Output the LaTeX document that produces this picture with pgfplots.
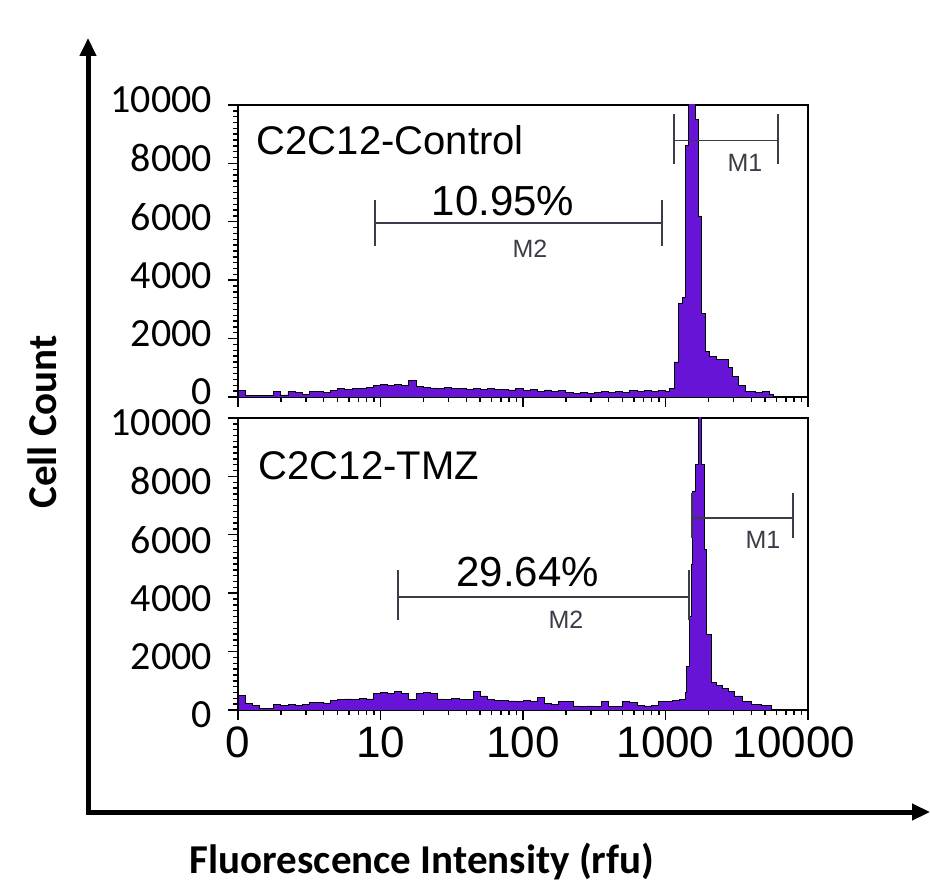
\documentclass[border=0pt]{standalone}
\usepackage{pgfplots}
\pgfplotsset{compat=1.18}
\usepackage{fontspec}
\setmainfont{Liberation Sans}
\newfontfamily\calibri{Carlito}
\usetikzlibrary{arrows.meta}

\definecolor{histpurple}{RGB}{104,20,214}
\definecolor{markgray}{RGB}{60,60,72}

% one FACS panel, log intensity axis
\pgfplotsset{
  facs/.style={
    width=285pt, height=146pt, scale only axis,
    xmin=1, xmax=10000,
    ymin=0, ymax=10000,
    xtick={1,10,100,1000,10000},
    ytick={0,2000,4000,6000,8000,10000},
    yticklabels={0,2000,4000,6000,8000,10000},
    minor y tick num=9,
    scaled y ticks=false,
    tick align=outside,
    xtick pos=left, ytick pos=left,
    major tick length=5pt, minor tick length=2.5pt,
    axis line style={line width=0.7pt},
    every tick/.style={black, line width=0.7pt},
    yticklabel style={font=\calibri\fontsize{20}{20}\selectfont,
      inner ysep=0pt, xshift=-4.5pt},
    xticklabel style={font=\fontsize{22}{22}\selectfont},
  },
  hist/.style={const plot, fill=histpurple, draw=black, line width=0.4pt},
}

\begin{document}
\begin{tikzpicture}[x=1pt,y=1pt]
\path[use as bounding box] (0,0) rectangle (465,444);

% ---- top: control
\begin{semilogxaxis}[facs, at={(119pt,245.5pt)}, anchor=south west, xticklabels={},
  yticklabel style={yshift=2.5pt}]
\addplot[hist] coordinates {
 (1.00,230) (1.12,50) (1.26,40) (1.41,60) (1.58,50) (1.78,200) (2.00,70)
 (2.24,180) (2.51,170) (2.82,90) (3.16,180) (3.55,190) (3.98,170) (4.47,220)
 (5.01,280) (5.62,260) (6.31,300) (7.08,280) (7.94,320) (8.91,380)
 (10.0,420) (11.2,400) (12.6,430) (14.1,380) (15.8,560) (17.8,350) (20.0,330)
 (22.4,310) (25.1,300) (28.2,320) (31.6,280) (35.5,300) (39.8,270) (44.7,290)
 (50.1,260) (56.2,280) (63.1,250) (70.8,270) (79.4,240) (89.1,280)
 (100,230) (112,250) (126,200) (141,240) (158,190) (178,210) (200,150)
 (224,130) (251,160) (282,120) (316,150) (355,180) (398,150) (447,200)
 (501,160) (562,210) (631,180) (708,230) (794,190) (891,220)
 (1000,200) (1072,300) (1148,1200) (1230,3200) (1318,3400) (1380,8600)
 (1445,10200) (1549,10500) (1622,9500) (1698,6200) (1778,2850) (1905,1560)
 (2042,1400) (2291,1300) (2512,1300) (2754,1000) (2951,700) (3236,400)
 (3631,200) (4266,150) (4786,180) (5370,100) (5754,0)
} \closedcycle;
\node[anchor=west, font=\fontsize{20}{20}\selectfont] at (axis cs:1.21,8790) {C2C12-Control};
\node[font=\fontsize{21}{21}\selectfont] at (axis cs:72.4,6710) {10.95\%};
\draw[markgray, line width=0.8pt] (axis cs:9.15,5950) -- (axis cs:945,5950)
  (axis cs:9.15,5170) -- (axis cs:9.15,6730) (axis cs:945,5170) -- (axis cs:945,6730);
\node[markgray, font=\fontsize{12.5}{12.5}\selectfont] at (axis cs:112,5090) {M2};
\draw[markgray, line width=0.8pt] (axis cs:1148,8790) -- (axis cs:6155,8790)
  (axis cs:1148,7990) -- (axis cs:1148,9690) (axis cs:6155,7990) -- (axis cs:6155,9690);
\node[markgray, font=\fontsize{12.5}{12.5}\selectfont] at (axis cs:3614,8030) {M1};
\end{semilogxaxis}

% ---- bottom: TMZ
\begin{semilogxaxis}[facs, at={(119pt,89pt)}, anchor=south west,
  yticklabel style={yshift=-2.5pt},
  xticklabels={0,10,100,1000,{\kern-14pt 10000}}]
\addplot[hist] coordinates {
 (1.00,500) (1.12,230) (1.26,170) (1.41,60) (1.58,60) (1.78,200) (2.00,170)
 (2.24,180) (2.51,160) (2.82,180) (3.16,250) (3.55,260) (3.98,240) (4.47,330)
 (5.01,350) (5.62,380) (6.31,360) (7.08,400) (7.94,380) (8.91,560)
 (10.0,600) (11.2,580) (12.6,620) (14.1,570) (15.8,350) (17.8,570) (20.0,600)
 (22.4,560) (25.1,380) (28.2,360) (31.6,390) (35.5,370) (39.8,350) (44.7,620)
 (50.1,480) (56.2,350) (63.1,340) (70.8,330) (79.4,310) (89.1,300)
 (100,320) (112,300) (126,420) (141,220) (158,190) (178,300) (200,280)
 (224,140) (251,120) (282,140) (316,130) (355,280) (398,130) (447,120)
 (501,280) (562,260) (631,150) (708,140) (794,160) (891,280)
 (1000,300) (1122,320) (1259,350) (1380,600) (1413,1500) (1479,3200)
 (1514,5000) (1549,7500) (1622,8400) (1698,10300) (1778,8400) (1862,5500)
 (1950,2600) (2089,950) (2291,850) (2512,750) (2754,620) (3020,480)
 (3467,300) (3981,200) (4677,170) (5129,150) (5495,0)
} \closedcycle;
\node[anchor=west, font=\fontsize{20}{20}\selectfont] at (axis cs:1.25,8360) {C2C12-TMZ};
\node[font=\fontsize{21}{21}\selectfont] at (axis cs:108,4730) {29.64\%};
\draw[markgray, line width=0.8pt] (axis cs:13.3,3870) -- (axis cs:1462,3870)
  (axis cs:13.3,3080) -- (axis cs:13.3,4790) (axis cs:1462,3080) -- (axis cs:1462,4790);
\node[markgray, font=\fontsize{12.5}{12.5}\selectfont] at (axis cs:200,3080) {M2};
\draw[markgray, line width=0.8pt] (axis cs:1535,6575) -- (axis cs:7850,6575)
  (axis cs:1535,5890) -- (axis cs:1535,7430) (axis cs:7850,5890) -- (axis cs:7850,7430);
\node[markgray, font=\fontsize{12.5}{12.5}\selectfont] at (axis cs:4830,5820) {M1};
\end{semilogxaxis}

% big frame arrows and titles
\draw[line width=2.5pt, {Triangle[length=9pt,width=8pt]}-{Triangle[length=9pt,width=8pt]}]
  (44,425) -- (44,38) -- (465,38);
\node[rotate=90, font=\calibri\bfseries\fontsize{20.5}{20.5}\selectfont] at (21,233) {Cell Count};
\node[font=\calibri\bfseries\fontsize{20.5}{20.5}\selectfont] at (211,13) {Fluorescence Intensity (rfu)};
\end{tikzpicture}
\end{document}
